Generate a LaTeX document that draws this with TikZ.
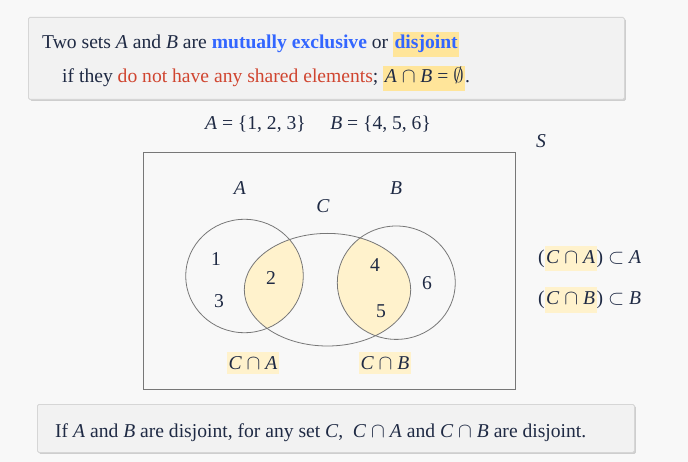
\documentclass[tikz,border=0pt]{standalone}
\usepackage{fontspec}
\setmainfont{Liberation Serif}
\usetikzlibrary{shadows}
\definecolor{bgc}{HTML}{F8F8F8}
\definecolor{boxc}{HTML}{F2F2F2}
\definecolor{boxd}{HTML}{D6D6D6}
\definecolor{ink}{HTML}{1F2A44}
\definecolor{blu}{HTML}{3366FF}
\definecolor{rd}{HTML}{D04530}
\definecolor{hl}{HTML}{FFE59A}
\definecolor{hll}{HTML}{FFF2CC}
\definecolor{ln}{HTML}{777777}
\newcommand{\mi}[1]{\textit{#1}}
\newcommand{\hlx}[2]{{\setlength{\fboxsep}{1.5pt}\colorbox{#1}{\strut #2}}}
\tikzset{
  txt/.style={font=\fontsize{19.6}{22}\selectfont, text=ink, inner sep=0pt},
  panel/.style={fill=boxc, draw=boxd, line width=0.8pt, rounded corners=1.5pt,
    drop shadow={shadow xshift=1.5pt, shadow yshift=-1.5pt, opacity=0.35, fill=gray}},
  setline/.style={draw=ln, line width=0.8pt},
  hlbox/.style={fill=hll, inner xsep=2pt, inner ysep=4pt},
}
\begin{document}
\begin{tikzpicture}[x=1pt,y=-1pt]
\useasboundingbox[fill=bgc] (0,0) rectangle (688,462);
% top panel
\node[panel, minimum width=596pt, minimum height=82pt, anchor=north west] (top) at (28,17) {};
\node[txt, anchor=base west] (l1) at (42,49) {Two sets \mi{A} and \mi{B} are \textcolor{blu}{\textbf{mutually exclusive}} or \hlx{hl}{\textcolor{blu}{\textbf{disjoint}}}};
\node[txt, anchor=base west] (l2) at (62,83) {if they \textcolor{rd}{do not have any shared elements}; \hlx{hl}{\mi{A} $\cap$ \mi{B} = $\emptyset$}.};
% sets line
\node[txt, anchor=base] (sets) at (318,130) {\mi{A} = \{1, 2, 3\}\quad\ \mi{B} = \{4, 5, 6\}};
\node[txt] (S) at (541,141) {\mi{S}};
% universe rectangle
\node[draw=ln, line width=0.8pt, minimum width=372pt, minimum height=237pt, anchor=north west, inner sep=0pt] (U) at (143,152) {};
% fills
\begin{scope}
  \clip (327.5,289.7) ellipse [x radius=83.2, y radius=56.3];
  \fill[hll] (244.5,276) ellipse [x radius=58.8, y radius=56.7];
  \fill[hll] (396.3,282.7) ellipse [x radius=59, y radius=56.7];
\end{scope}
\draw[setline] (244.5,276) ellipse [x radius=58.8, y radius=56.7];
\draw[setline] (327.5,289.7) ellipse [x radius=83.2, y radius=56.3];
\draw[setline] (396.3,282.7) ellipse [x radius=59, y radius=56.7];
\node[txt] (lA) at (240,188) {\mi{A}};
\node[txt] (lB) at (396,188) {\mi{B}};
\node[txt] (lC) at (323,206) {\mi{C}};
\node[txt] (e1) at (216,259) {1};
\node[txt] (e3) at (219,301) {3};
\node[txt] (e2) at (271,278) {2};
\node[txt] (e4) at (375,265) {4};
\node[txt] (e6) at (427,283) {6};
\node[txt] (e5) at (381,311) {5};
\node[txt, hlbox] (ca) at (253,363) {\mi{C} $\cap$ \mi{A}};
\node[txt, hlbox] (cb) at (385,363) {\mi{C} $\cap$ \mi{B}};
% right statements
\node[txt, anchor=west] (r1) at (538,259) {(\hlx{hll}{\mi{C} $\cap$ \mi{A}}) $\subset$ \mi{A}};
\node[txt, anchor=west] (r2) at (538,300) {(\hlx{hll}{\mi{C} $\cap$ \mi{B}}) $\subset$ \mi{B}};
% bottom panel
\node[panel, minimum width=597pt, minimum height=48pt, anchor=north west] (bot) at (37,404) {};
\node[txt, anchor=base west] (bt) at (55,437) {If \mi{A} and \mi{B} are disjoint, for any set \mi{C},\ \ \mi{C} $\cap$ \mi{A} and \mi{C} $\cap$ \mi{B} are disjoint.};
\end{tikzpicture}
\end{document}
